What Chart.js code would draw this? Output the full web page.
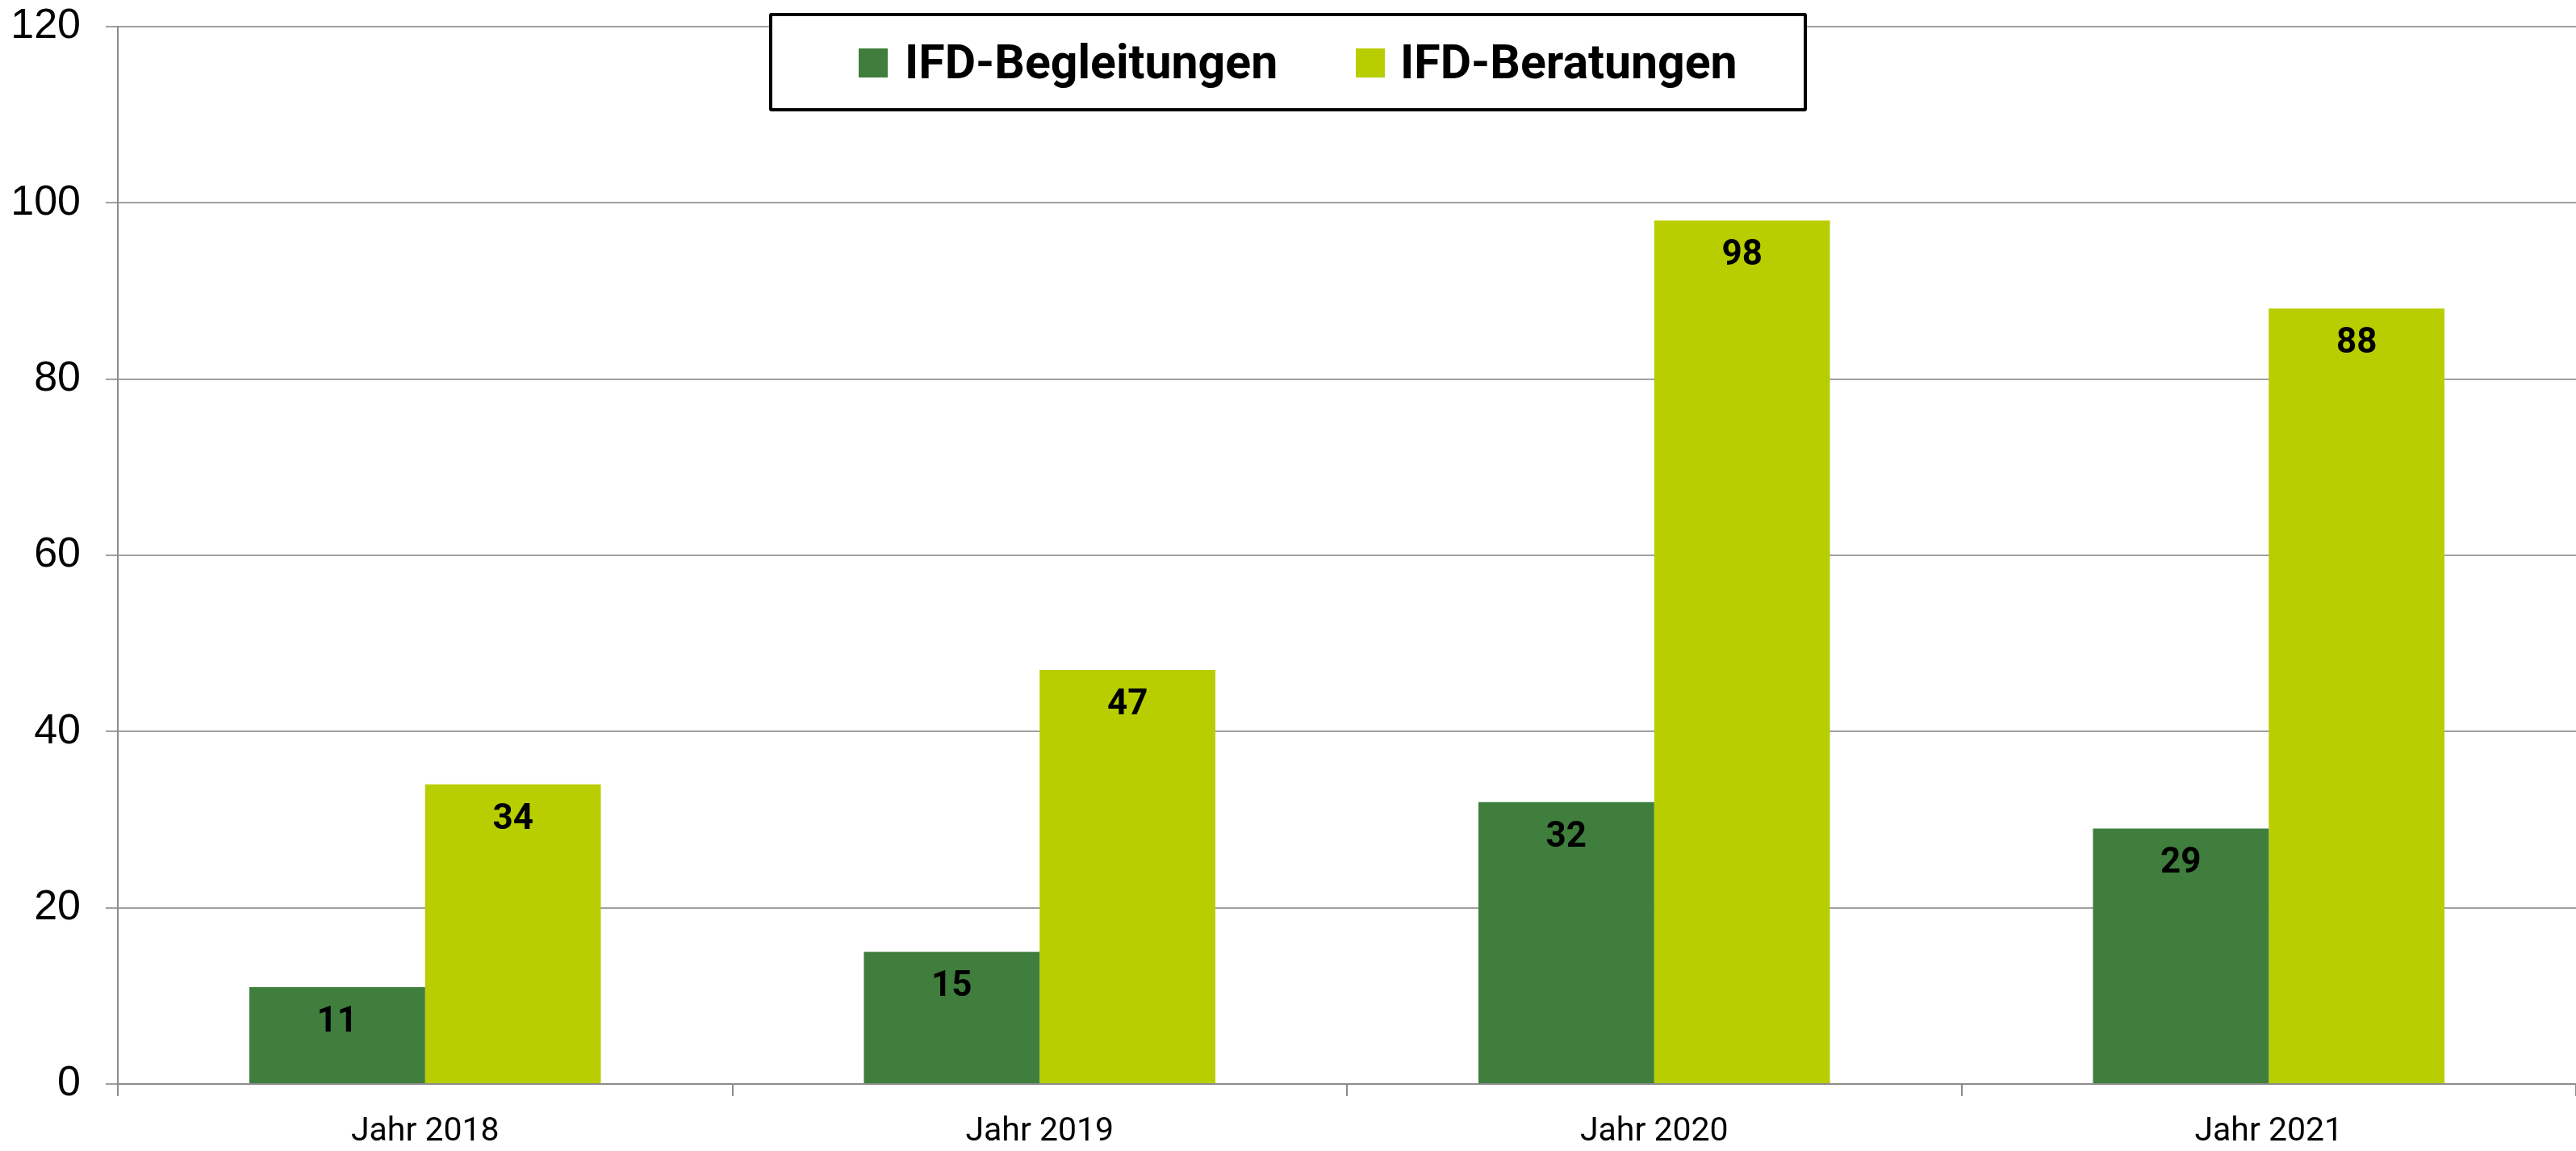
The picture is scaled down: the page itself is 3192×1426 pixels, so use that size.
<!DOCTYPE html>
<html>
<head>
<meta charset="utf-8">
<script src="https://cdn.jsdelivr.net/npm/chart.js@4.4.1/dist/chart.umd.min.js"></script>
<style>
  html, body { margin: 0; padding: 0; background: #fff; }
  #wrap { position: relative; width: 3192px; height: 1426px; }
  #legend {
    position: absolute; left: 953px; top: 16px; width: 1286px; height: 122px;
    box-sizing: border-box; border: 4px solid #000; border-radius: 3px; background: #fff;
  }
  .lg-box { position: absolute; width: 36px; height: 36px; top: 40px; }
  .lg-text {
    position: absolute; top: 0; height: 114px;
    font: bold 59px Roboto, "Liberation Sans", sans-serif; color: #000;
    line-height: 114px;
    white-space: nowrap;
  }
</style>
</head>
<body>
<div id="wrap">
  <canvas id="chart" width="3192" height="1426"></canvas>
  <div id="legend"></div>
</div>
<script>
// chart data
const years = ['Jahr 2018', 'Jahr 2019', 'Jahr 2020', 'Jahr 2021'];
const seriesNames = ['IFD-Begleitungen', 'IFD-Beratungen'];
const begleitungen = [11, 15, 32, 29];
const beratungen = [34, 47, 98, 88];
const colors = ['#3f7e3d', '#b8ce00'];
const yTicks = [0, 20, 40, 60, 80, 100, 120];

const labelFont = 'Roboto, "Liberation Sans", sans-serif';

// legend as html over the plot (like the excel original)
const legend = document.getElementById('legend');
const boxLeft = [107, 723];
const textLeft = [164, 778];
seriesNames.forEach((name, i) => {
  const b = document.createElement('div');
  b.className = 'lg-box';
  b.style.left = boxLeft[i] + 'px';
  b.style.background = colors[i];
  legend.appendChild(b);
  const t = document.createElement('div');
  t.className = 'lg-text';
  t.style.left = textLeft[i] + 'px';
  t.textContent = name;
  legend.appendChild(t);
});

// numbers inside the top of each bar
const valueLabels = {
  id: 'valueLabels',
  afterDatasetsDraw(chart) {
    const ctx = chart.ctx;
    ctx.save();
    ctx.font = 'bold 44px ' + labelFont;
    ctx.fillStyle = '#000';
    ctx.textAlign = 'center';
    ctx.textBaseline = 'middle';
    chart.data.datasets.forEach((ds, i) => {
      chart.getDatasetMeta(i).data.forEach((bar, j) => {
        ctx.fillText(ds.data[j], bar.x, bar.y + 44);
      });
    });
    ctx.restore();
  }
};

new Chart(document.getElementById('chart'), {
  type: 'bar',
  data: {
    labels: years,
    datasets: [
      { label: seriesNames[0], data: begleitungen, backgroundColor: colors[0], borderWidth: 0 },
      { label: seriesNames[1], data: beratungen, backgroundColor: colors[1], borderWidth: 0 }
    ]
  },
  options: {
    responsive: false,
    devicePixelRatio: 1,
    animation: false,
    layout: { padding: { top: 33, right: 0, bottom: 0, left: 0 } },
    plugins: {
      legend: { display: false },
      tooltip: { enabled: false }
    },
    datasets: {
      bar: { categoryPercentage: 0.572, barPercentage: 1.0 }
    },
    scales: {
      x: {
        afterFit: (scale) => { scale.height = 83; },
        grid: {
          offset: true,
          drawOnChartArea: false,
          drawTicks: true,
          tickLength: 15,
          color: '#8c8c8c',
          lineWidth: 2
        },
        border: { color: '#8c8c8c', width: 2 },
        ticks: {
          color: '#000',
          padding: 20,
          font: { family: labelFont, size: 41 }
        }
      },
      y: {
        min: 0,
        max: 120,
        afterFit: (scale) => {
          scale.width = 146;
          scale.paddingTop = 0;
          scale.paddingBottom = 0;
        },
        afterBuildTicks: (scale) => { scale.ticks = yTicks.map(v => ({ value: v })); },
        grid: {
          color: '#a0a0a0',
          lineWidth: 2,
          drawTicks: true,
          tickLength: 15
        },
        border: { color: '#8c8c8c', width: 2 },
        ticks: {
          color: '#000',
          padding: 31,
          font: { family: '"Liberation Sans", Lato, sans-serif', size: 52 }
        }
      }
    }
  },
  plugins: [valueLabels]
});
</script>
</body>
</html>
